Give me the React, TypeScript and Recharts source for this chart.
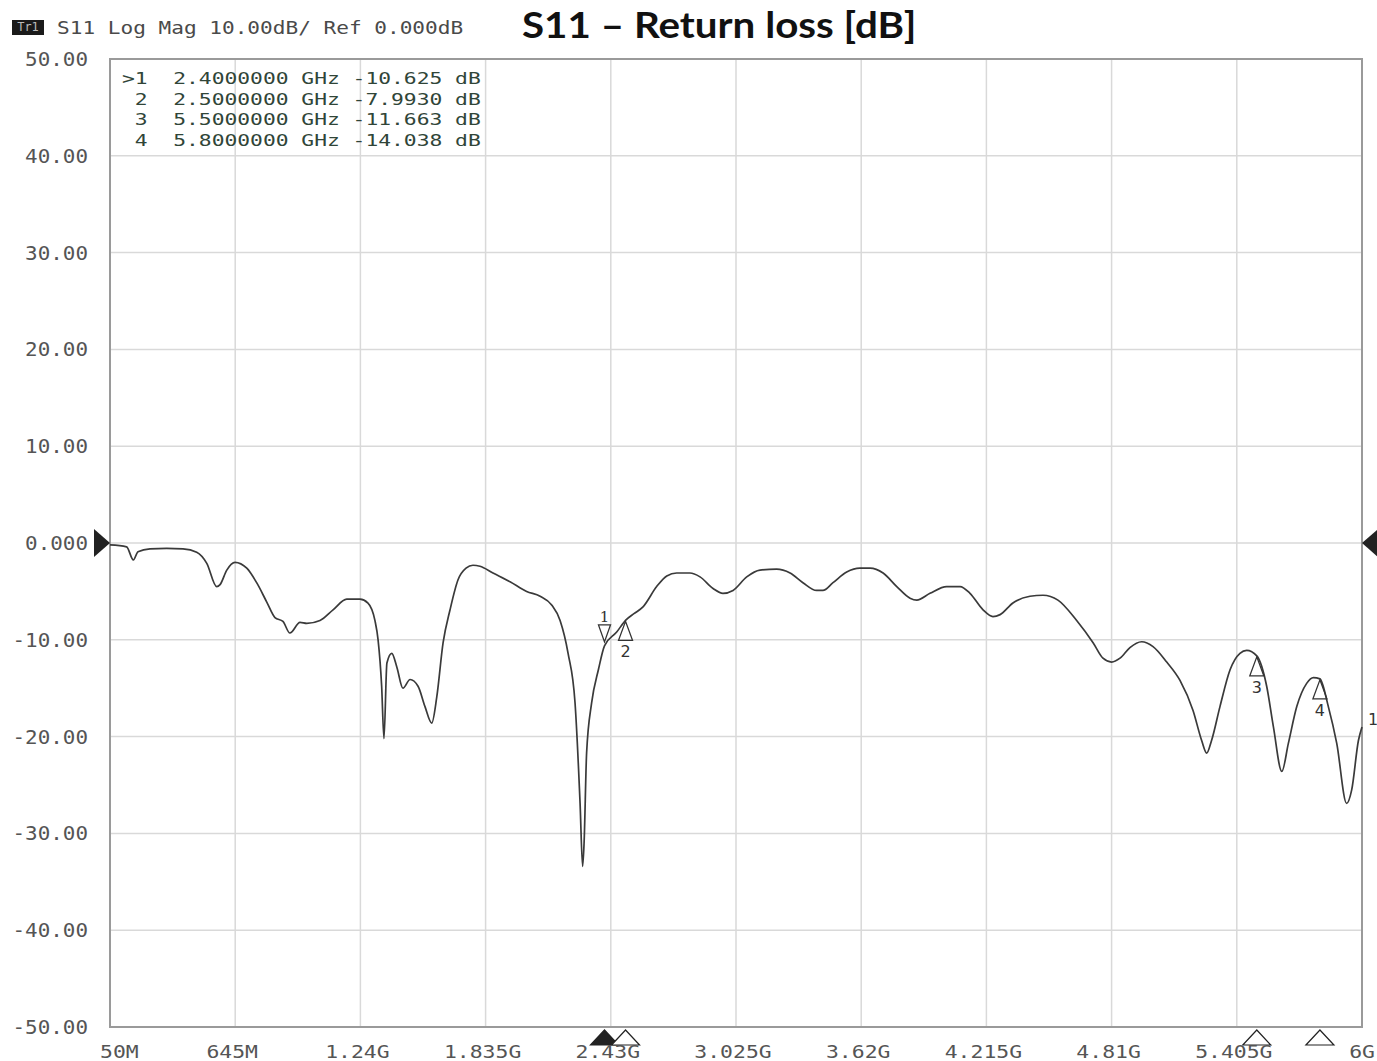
import React from 'react';
import {
  LineChart,
  Line,
  XAxis,
  YAxis,
  CartesianGrid,
  ReferenceArea,
  ReferenceDot,
} from 'recharts';

// trace (MHz / dB)
const freqMHz = [
  50, 129, 161, 183, 240, 319, 397, 462, 510, 557,
  573, 605, 644, 700, 747, 795, 834, 872, 905, 953,
  985, 1048, 1110, 1175, 1238, 1276, 1309, 1324, 1341, 1352,
  1366, 1389, 1413, 1442, 1476, 1514, 1547, 1579, 1603, 1633,
  1666, 1704, 1742, 1775, 1808, 1870, 1951, 2030, 2094, 2149,
  2189, 2227, 2260, 2284, 2296, 2303, 2315, 2339, 2371, 2400,
  2458, 2500, 2540, 2583, 2648, 2696, 2743, 2806, 2854, 2916,
  2963, 3011, 3076, 3139, 3218, 3282, 3343, 3408, 3438, 3486,
  3551, 3614, 3662, 3724, 3789, 3852, 3884, 3947, 4026, 4090,
  4137, 4199, 4246, 4280, 4341, 4422, 4484, 4555, 4644, 4722,
  4769, 4810, 4850, 4897, 4953, 5007, 5072, 5135, 5197, 5238,
  5262, 5285, 5325, 5373, 5420, 5452, 5500, 5547, 5579, 5619,
  5650, 5690, 5737, 5769, 5800, 5840, 5880, 5927, 5951, 5983,
  6000,
];

const s11dB = [
  -0.2, -0.4, -1.75, -0.9, -0.6, -0.55, -0.6, -0.95, -2.1, -4.5,
  -4.3, -2.8, -2.0, -2.6, -4.1, -6.1, -7.7, -8.1, -9.3, -8.2,
  -8.3, -8.0, -6.9, -5.8, -5.8, -6.2, -8.0, -10.0, -14.8, -20.2,
  -12.4, -11.4, -12.8, -15.0, -14.1, -14.8, -16.9, -18.6, -15.9, -10.3,
  -6.9, -3.8, -2.6, -2.3, -2.4, -3.1, -4.0, -5.0, -5.5, -6.4,
  -8.0, -11.4, -16.5, -26.9, -33.4, -31.0, -21.7, -16.5, -13.1, -10.625,
  -9.2, -7.993, -7.3, -6.6, -4.5, -3.4, -3.1, -3.1, -3.5, -4.7,
  -5.2, -4.9, -3.5, -2.8, -2.7, -3.1, -4.1, -4.9, -4.9, -4.1,
  -3.0, -2.6, -2.6, -3.1, -4.5, -5.7, -5.9, -5.2, -4.5, -4.5,
  -5.2, -6.9, -7.6, -7.4, -6.2, -5.5, -5.4, -5.9, -8.0, -10.3,
  -11.9, -12.3, -11.9, -10.8, -10.2, -10.7, -12.3, -14.2, -17.3, -20.4,
  -21.7, -20.4, -16.9, -13.1, -11.4, -11.1, -11.663, -14.8, -19.0, -23.6,
  -20.7, -16.9, -14.5, -13.9, -14.038, -16.9, -20.7, -26.9, -25.5, -20.4,
  -19.0,
];

const xTicks = [50, 645, 1240, 1835, 2430, 3025, 3620, 4215, 4810, 5405, 6000];
const xTickLabels = ['50M', '645M', '1.24G', '1.835G', '2.43G', '3.025G', '3.62G', '4.215G', '4.81G', '5.405G', '6G'];
const yTicks = [50, 40, 30, 20, 10, 0, -10, -20, -30, -40, -50];

const markerIds = ['1', '2', '3', '4'];
const markerFreqs = [2400, 2500, 5500, 5800];
const markerValues = [-10.625, -7.993, -11.663, -14.038];
const markerRows = [
  '>1  2.4000000 GHz -10.625 dB',
  ' 2  2.5000000 GHz -7.9930 dB',
  ' 3  5.5000000 GHz -11.663 dB',
  ' 4  5.8000000 GHz -14.038 dB',
];

const data = freqMHz.map((f, i) => ({ f, db: s11dB[i] }));

const MONO = '"DejaVu Sans Mono", monospace';
const LABEL = '#555';

const fmtY = (v: number) => (v === 0 ? '0.000' : v.toFixed(2));

const YTick = (props: any) => {
  const { x, y, payload } = props;
  return (
    <text
      transform={`translate(${x - 20},${y + 7}) scale(1.1,1)`}
      textAnchor="end"
      fontFamily={MONO}
      fontSize={19}
      fill={LABEL}
    >
      {fmtY(payload.value)}
    </text>
  );
};

const XTick = (props: any) => {
  const { x, y, payload } = props;
  const idx = xTicks.indexOf(payload.value);
  // first and last labels are kept inside the window like on the analyzer
  let anchor = 'middle';
  let tx = x - 3;
  if (idx === 0) {
    anchor = 'start';
    tx = x - 10;
  } else if (idx === xTicks.length - 1) {
    anchor = 'end';
    tx = x + 13;
  }
  return (
    <text
      transform={`translate(${tx},${y + 29}) scale(1.26,1)`}
      textAnchor={anchor}
      fontFamily={MONO}
      fontSize={17}
      fill={LABEL}
    >
      {xTickLabels[idx]}
    </text>
  );
};

// marker symbol sitting on the trace
const traceMarker = (i: number) => (props: any) => {
  const { cx, cy } = props;
  if (i === 0) {
    // active marker: triangle pointing down onto the trace, number above
    return (
      <g>
        <polygon points={`${cx - 6},${cy - 21} ${cx + 6},${cy - 21} ${cx},${cy - 4}`} fill="none" stroke="#333" strokeWidth={1.3} />
        <text x={cx} y={cy - 24} textAnchor="middle" fontSize={15} fontFamily="DejaVu Serif" fill="#333">{markerIds[i]}</text>
      </g>
    );
  }
  return (
    <g>
      <polygon points={`${cx},${cy + 1} ${cx - 7},${cy + 20} ${cx + 7},${cy + 20}`} fill="none" stroke="#333" strokeWidth={1.3} />
      <text x={cx} y={cy + 37} textAnchor="middle" fontSize={16} fontFamily="DejaVu Sans" fill="#333">{markerIds[i]}</text>
    </g>
  );
};

// marker position indicators under the frame
const axisMarker = (i: number) => (props: any) => {
  const { cx, cy } = props;
  return (
    <polygon
      points={`${cx},${cy + 3} ${cx - 14},${cy + 18} ${cx + 14},${cy + 18}`}
      fill={i === 0 ? '#222' : '#fff'}
      stroke="#222"
      strokeWidth={1.2}
    />
  );
};

const refLeft = (props: any) => {
  const { cx, cy } = props;
  return <polygon points={`${cx - 16},${cy - 14} ${cx - 16},${cy + 14} ${cx},${cy}`} fill="#222" />;
};

const refRight = (props: any) => {
  const { cx, cy } = props;
  return <polygon points={`${cx + 16},${cy - 14} ${cx + 16},${cy + 14} ${cx},${cy}`} fill="#222" />;
};

const traceEnd = (props: any) => {
  const { cx, cy } = props;
  return (
    <text x={cx + 6} y={cy - 2} fontSize={16} fontFamily="DejaVu Sans" fill="#333">1</text>
  );
};

const stretched = (sx: number): React.CSSProperties => ({
  transform: `scaleX(${sx})`,
  transformOrigin: 'left top',
});

export default function App() {
  const last = data[data.length - 1];
  return (
    <div style={{ position: 'absolute', left: 0, top: 0, width: 1377, height: 1061, background: '#fff', overflow: 'hidden' }}>
      <LineChart width={1377} height={1061} data={data} margin={{ top: 59, right: 15, bottom: 0, left: 0 }}>
        <CartesianGrid stroke="#d9d9d9" strokeWidth={1.5} />
        <XAxis
          dataKey="f"
          type="number"
          domain={[50, 6000]}
          ticks={xTicks}
          tick={<XTick />}
          tickLine={false}
          tickSize={0}
          axisLine={false}
          height={34}
          interval={0}
        />
        <YAxis
          type="number"
          domain={[-50, 50]}
          ticks={yTicks}
          tick={<YTick />}
          tickLine={false}
          tickSize={0}
          axisLine={false}
          width={110}
          interval={0}
        />
        <ReferenceArea x1={50} x2={6000} y1={-50} y2={50} fill="none" stroke="#9a9a9a" strokeWidth={2} ifOverflow="visible" />
        <Line
          type="monotone"
          dataKey="db"
          stroke="#3a3a3a"
          strokeWidth={1.7}
          dot={false}
          isAnimationActive={false}
        />
        {markerFreqs.map((f, i) => (
          <ReferenceDot key={`m${i}`} x={f} y={markerValues[i]} ifOverflow="visible" shape={traceMarker(i)} />
        ))}
        {markerFreqs.map((f, i) => (
          <ReferenceDot key={`a${i}`} x={f} y={-50} ifOverflow="visible" shape={axisMarker(i)} />
        ))}
        <ReferenceDot x={50} y={0} ifOverflow="visible" shape={refLeft} />
        <ReferenceDot x={6000} y={0} ifOverflow="visible" shape={refRight} />
        <ReferenceDot x={last.f} y={last.db} ifOverflow="visible" shape={traceEnd} />
      </LineChart>

      {/* analyzer header */}
      <div style={{ position: 'absolute', left: 12, top: 20, width: 32, height: 15, background: '#1a1a1a', color: '#bbb', fontFamily: MONO, fontSize: 12, lineHeight: '15px', textAlign: 'center' }}>
        Tr1
      </div>
      <div style={{ position: 'absolute', left: 57, top: 17, fontFamily: MONO, fontSize: 17, color: '#4a4a4a', whiteSpace: 'pre', lineHeight: '22px', ...stretched(1.24) }}>
        S11 Log Mag 10.00dB/ Ref 0.000dB
      </div>
      <div style={{ position: 'absolute', left: 522, top: 1, fontFamily: 'Lato, "Open Sans", sans-serif', fontWeight: 700, fontSize: 37, color: '#111', whiteSpace: 'pre', lineHeight: '46px', ...stretched(1.09) }}>
        S11 – Return loss [dB]
      </div>

      {/* marker table */}
      <div style={{ position: 'absolute', left: 122, top: 69, fontFamily: MONO, fontSize: 16, color: '#304538', whiteSpace: 'pre', lineHeight: '20.5px', ...stretched(1.33) }}>
        {markerRows.map((r) => (
          <div key={r}>{r}</div>
        ))}
      </div>
    </div>
  );
}
